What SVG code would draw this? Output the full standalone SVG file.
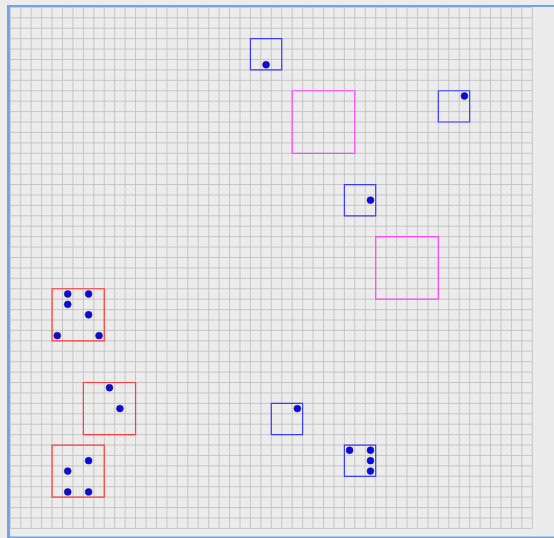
<svg xmlns="http://www.w3.org/2000/svg" width="554" height="538" viewBox="0 0 554 538">
<style>
.grid{fill:none;stroke:#c6c6c6;stroke-width:1}
.box{fill:none;stroke-width:1.2}
.b{stroke:#3b3bff}
.r{stroke:#ff3b3b}
.m{stroke:#ff44ff}
.dot{fill:#0a0ae6;stroke:#202060;stroke-width:0.6}
.ns{vector-effect:non-scaling-stroke}
</style>
<rect x="0" y="0" width="554" height="538" fill="#ececec"/>
<rect x="7" y="5" width="547" height="2" fill="#69a5ea"/>
<rect x="7" y="5" width="3" height="533" fill="#69a5ea"/>
<rect x="7" y="536.5" width="547" height="1.5" fill="#69a5ea"/>
<g transform="translate(10.3,7.4) scale(10.44,10.42)">
<path class="grid ns" d="M0 0V50M1 0V50M2 0V50M3 0V50M4 0V50M5 0V50M6 0V50M7 0V50M8 0V50M9 0V50M10 0V50M11 0V50M12 0V50M13 0V50M14 0V50M15 0V50M16 0V50M17 0V50M18 0V50M19 0V50M20 0V50M21 0V50M22 0V50M23 0V50M24 0V50M25 0V50M26 0V50M27 0V50M28 0V50M29 0V50M30 0V50M31 0V50M32 0V50M33 0V50M34 0V50M35 0V50M36 0V50M37 0V50M38 0V50M39 0V50M40 0V50M41 0V50M42 0V50M43 0V50M44 0V50M45 0V50M46 0V50M47 0V50M48 0V50M49 0V50M50 0V50M0 0H50M0 1H50M0 2H50M0 3H50M0 4H50M0 5H50M0 6H50M0 7H50M0 8H50M0 9H50M0 10H50M0 11H50M0 12H50M0 13H50M0 14H50M0 15H50M0 16H50M0 17H50M0 18H50M0 19H50M0 20H50M0 21H50M0 22H50M0 23H50M0 24H50M0 25H50M0 26H50M0 27H50M0 28H50M0 29H50M0 30H50M0 31H50M0 32H50M0 33H50M0 34H50M0 35H50M0 36H50M0 37H50M0 38H50M0 39H50M0 40H50M0 41H50M0 42H50M0 43H50M0 44H50M0 45H50M0 46H50M0 47H50M0 48H50M0 49H50M0 50H50"/>
<g id="box-b1"><rect class="box b ns" x="23" y="3" width="3" height="3"/><circle class="dot ns" cx="24.5" cy="5.5" r="0.33"/></g>
<g id="box-m1"><rect class="box m ns" x="27" y="8" width="6" height="6"/></g>
<g id="box-b2"><rect class="box b ns" x="41" y="8" width="3" height="3"/><circle class="dot ns" cx="43.5" cy="8.5" r="0.33"/></g>
<g id="box-b3"><rect class="box b ns" x="32" y="17" width="3" height="3"/><circle class="dot ns" cx="34.5" cy="18.5" r="0.33"/></g>
<g id="box-m2"><rect class="box m ns" x="35" y="22" width="6" height="6"/></g>
<g id="box-r1"><rect class="box r ns" x="4" y="27" width="5" height="5"/>
<circle class="dot ns" cx="5.5" cy="27.5" r="0.33"/><circle class="dot ns" cx="7.5" cy="27.5" r="0.33"/><circle class="dot ns" cx="5.5" cy="28.5" r="0.33"/><circle class="dot ns" cx="7.5" cy="29.5" r="0.33"/><circle class="dot ns" cx="4.5" cy="31.5" r="0.33"/><circle class="dot ns" cx="8.5" cy="31.5" r="0.33"/></g>
<g id="box-r2"><rect class="box r ns" x="7" y="36" width="5" height="5"/>
<circle class="dot ns" cx="9.5" cy="36.5" r="0.33"/><circle class="dot ns" cx="10.5" cy="38.5" r="0.33"/></g>
<g id="box-r3"><rect class="box r ns" x="4" y="42" width="5" height="5"/>
<circle class="dot ns" cx="7.5" cy="43.5" r="0.33"/><circle class="dot ns" cx="5.5" cy="44.5" r="0.33"/><circle class="dot ns" cx="5.5" cy="46.5" r="0.33"/><circle class="dot ns" cx="7.5" cy="46.5" r="0.33"/></g>
<g id="box-b4"><rect class="box b ns" x="25" y="38" width="3" height="3"/><circle class="dot ns" cx="27.5" cy="38.5" r="0.33"/></g>
<g id="box-b5"><rect class="box b ns" x="32" y="42" width="3" height="3"/>
<circle class="dot ns" cx="32.5" cy="42.5" r="0.33"/><circle class="dot ns" cx="34.5" cy="42.5" r="0.33"/><circle class="dot ns" cx="34.5" cy="43.5" r="0.33"/><circle class="dot ns" cx="34.5" cy="44.5" r="0.33"/></g>
<g id="connectors"/>
</g>
</svg>
